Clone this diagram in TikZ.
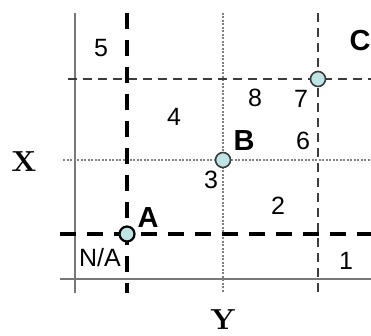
\documentclass[tikz,border=0pt]{standalone}
\usepackage{fontspec}
\newfontfamily\lab{Liberation Sans}
\newfontfamily\axfont{lmroman10-bold}[Extension=.otf]
\definecolor{ptfill}{RGB}{190,228,228}
\definecolor{axisgray}{RGB}{120,120,120}
\definecolor{dotgray}{RGB}{130,130,130}
\definecolor{medgray}{RGB}{60,60,60}
\tikzset{
  axisline/.style={draw=axisgray, line width=1.5pt},
  thickdash/.style={draw=black, line width=3.4pt, dash pattern=on 16pt off 11pt},
  meddash/.style={draw=medgray, line width=2.4pt, dash pattern=on 9pt off 6pt},
  dotline/.style={draw=dotgray, line width=1.7pt, dash pattern=on 2pt off 1.5pt},
  pt/.style={circle, fill=ptfill, inner sep=0pt, minimum size=15pt},
  num/.style={inner sep=0pt, font=\lab\fontsize{25}{27}\selectfont},
  ptlab/.style={inner sep=0pt, font=\lab\bfseries\fontsize{29}{31}\selectfont},
  axlab/.style={inner sep=0pt, font=\axfont\fontsize{29}{31}\selectfont}
}
\begin{document}
\begin{tikzpicture}[x=1pt,y=-1pt]
\useasboundingbox (0,0) rectangle (371,336);
% axes
\draw[axisline] (75,13) -- (75,293);
\draw[axisline] (60,279) -- (371,279);
% B lines (dotted)
\draw[dotline] (223,13) -- (223,293);
\draw[dotline] (63,160) -- (371,160);
% C lines (medium dashed)
\draw[meddash] (318,13) -- (318,293);
\draw[meddash] (68,79) -- (371,79);
% A lines (thick dashed)
\draw[thickdash] (127,13) -- (127,293);
\draw[thickdash] (60,234) -- (371,234);
% points
\node[pt, draw=black, line width=2.2pt] (A) at (127,234) {};
\node[pt, draw=medgray, line width=1.6pt] (B) at (223,160) {};
\node[pt, draw=medgray, line width=1.6pt] (C) at (318,79) {};
% point labels
\node[ptlab] (la) at (148,218) {A};
\node[ptlab] (lb) at (244,141) {B};
\node[ptlab] (lc) at (360,41) {C};
% region numbers
\node[num] (n5) at (101,48) {5};
\node[num] (n4) at (174,117) {4};
\node[num] (n8) at (255,98) {8};
\node[num] (n7) at (301,99) {7};
\node[num] (n6) at (303,141) {6};
\node[num] (n3) at (211,180) {3};
\node[num] (n2) at (278,206) {2};
\node[num] (n1) at (346,261) {1};
\node[num] (na) at (100,258) {N/A};
% axis labels
\node[axlab] (X) at (24,162) {X};
\node[axlab, anchor=north] (Y) at (223,309) {Y};
\end{tikzpicture}
\end{document}
